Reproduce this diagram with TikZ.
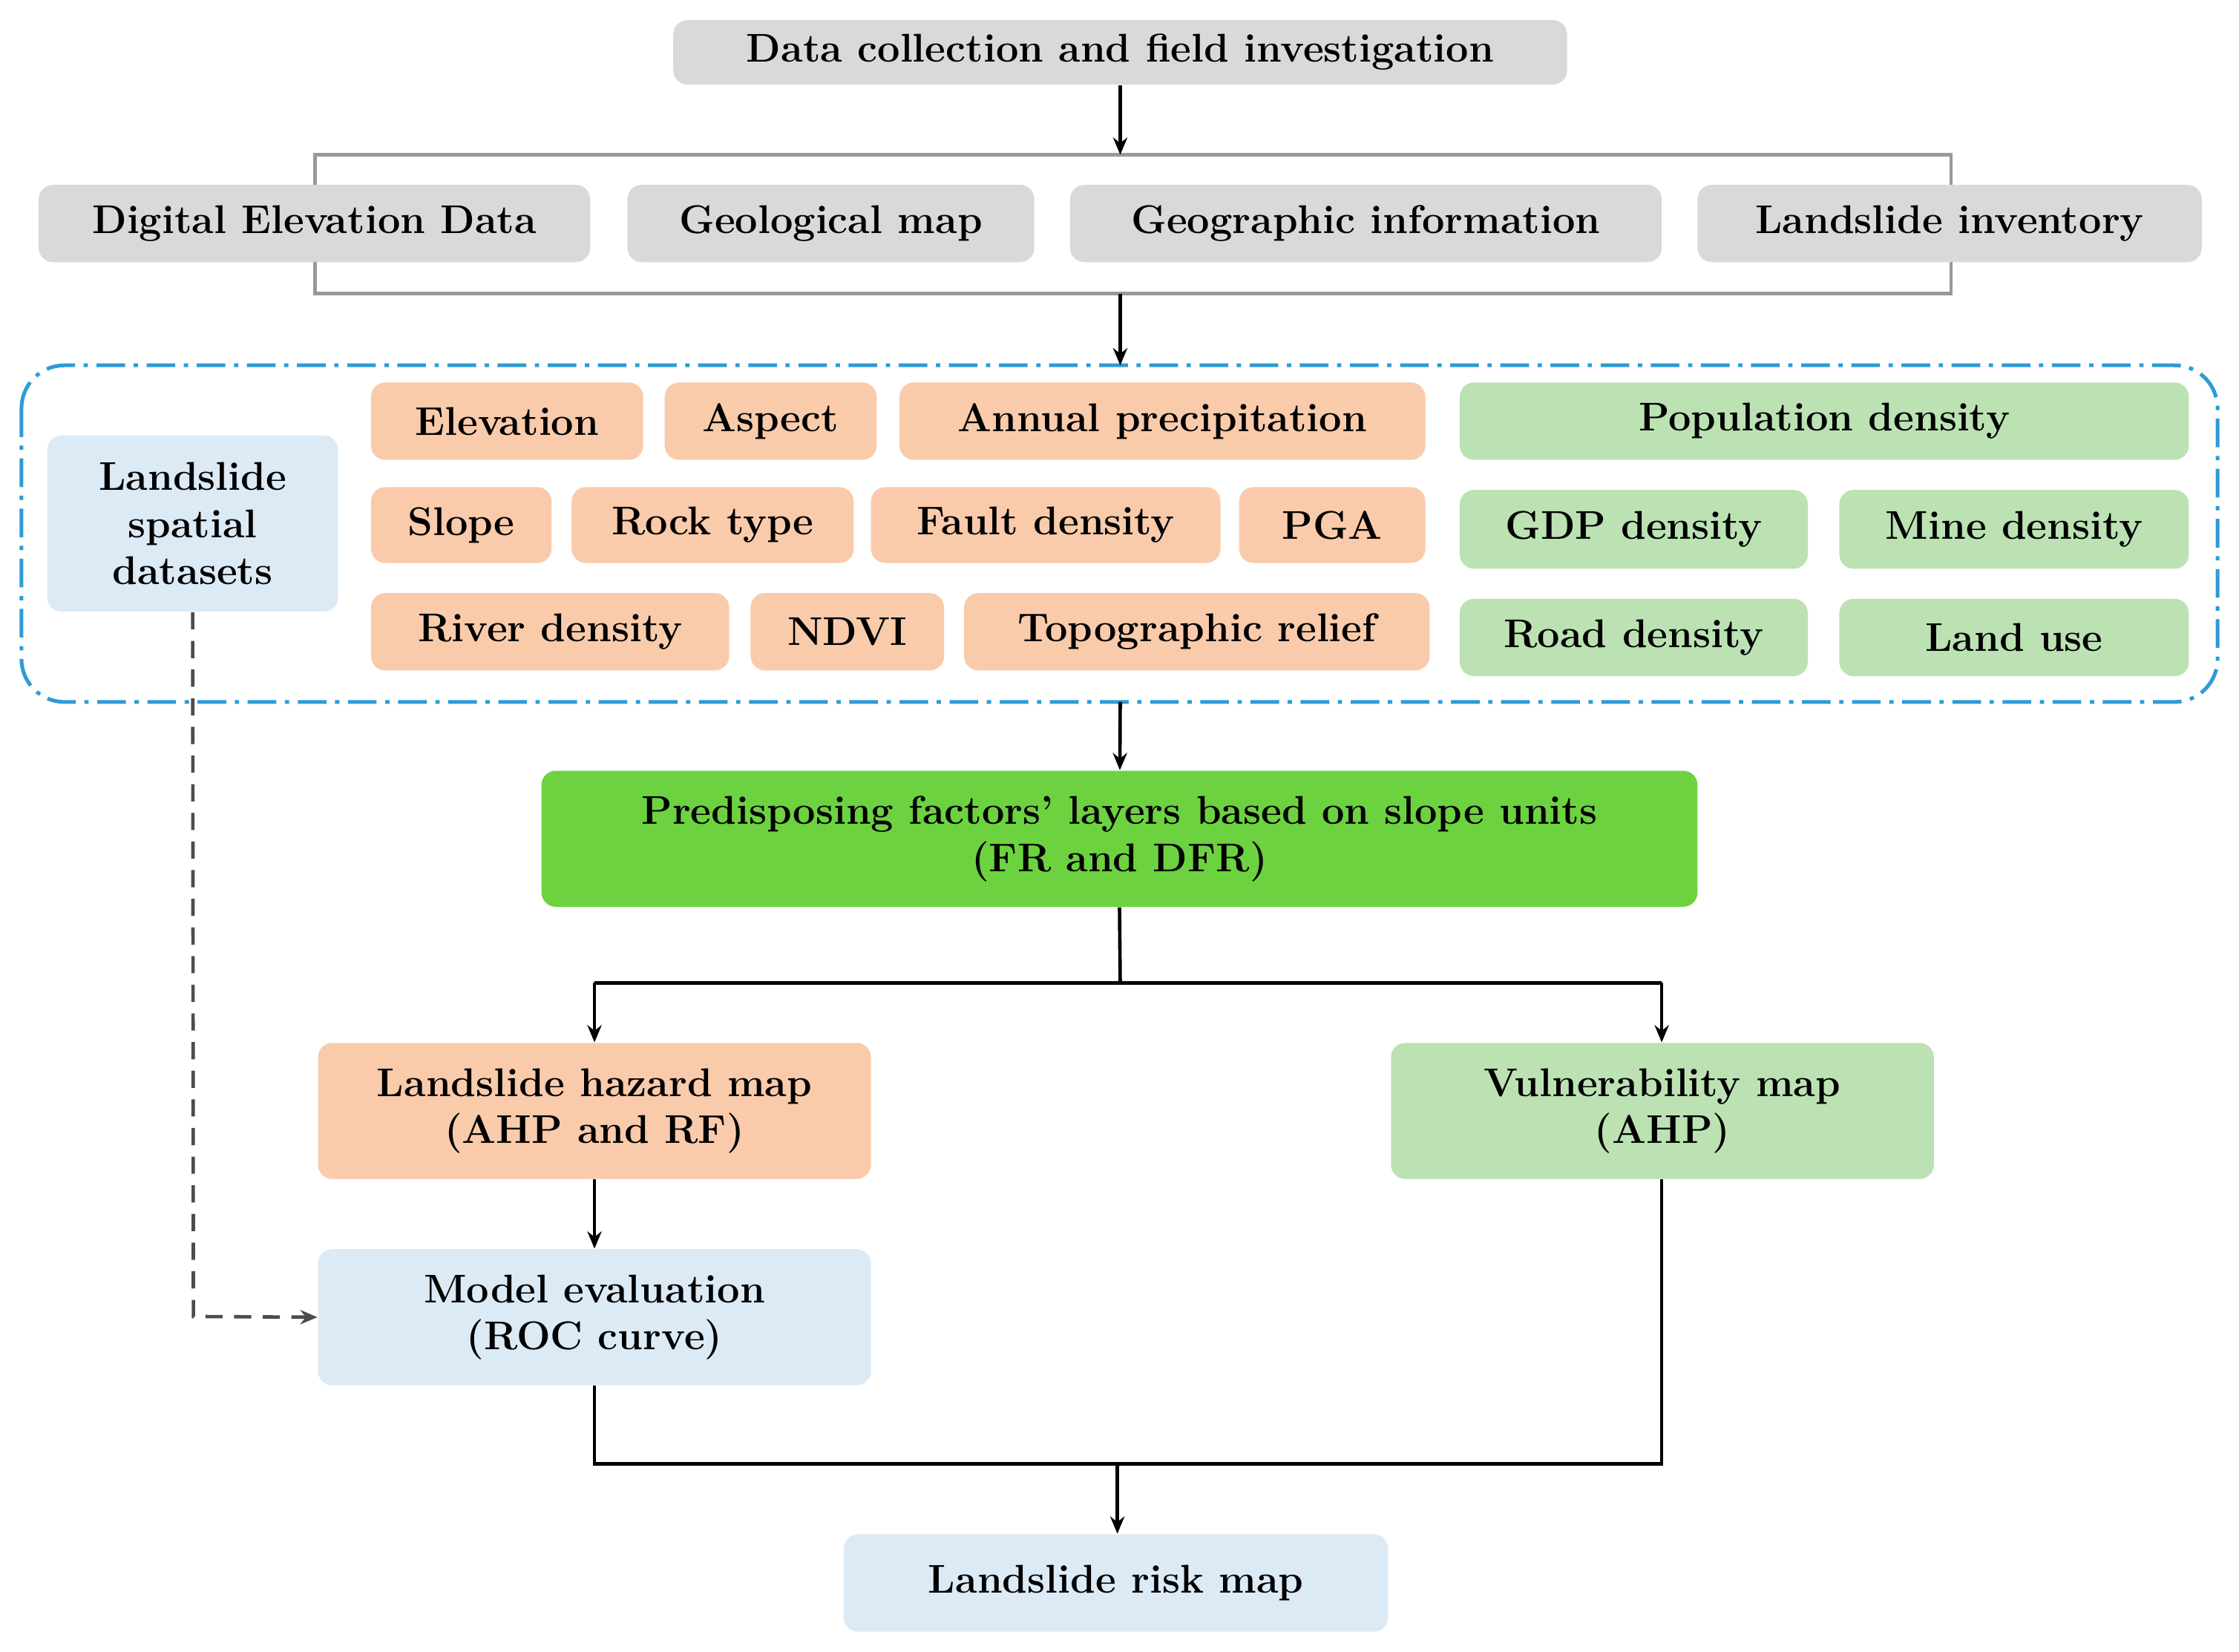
\documentclass[tikz,border=0pt]{standalone}
\usetikzlibrary{arrows.meta}
\definecolor{gr}{HTML}{D9D9D9}
\definecolor{org}{HTML}{F9CBAB}
\definecolor{lgr}{HTML}{BCE2B4}
\definecolor{lbl}{HTML}{DCEAF6}
\definecolor{dgr}{HTML}{6DD240}
\definecolor{bl}{HTML}{2E9BD6}
\begin{document}
\begin{tikzpicture}[x=0.5pt,y=-0.5pt,
 box/.style={rounded corners=5pt,inner sep=0pt,align=center,font=\fontsize{14}{16.5}\selectfont\bfseries},
 arr/.style={line width=1.2pt,-{Stealth[length=6pt,width=5pt]}},
 ln/.style={line width=1.2pt}]
\useasboundingbox[fill=white] (0,0) rectangle (1563,1153);
\newcommand\bx[7]{\node[box,fill=#6,minimum width={(#4-#2)*0.5pt},minimum height={(#5-#3)*0.5pt}] (#1) at ({(#2+#4)/2},{(#3+#5)/2}) {#7};}
\bx{top}{470}{14}{1094}{59}{gr}{Data collection and field investigation}
\bx{ded}{27}{129}{412}{183}{gr}{Digital Elevation Data}
\bx{geo}{438}{129}{722}{183}{gr}{Geological map}
\bx{geog}{747}{129}{1160}{183}{gr}{Geographic information}
\bx{inv}{1185}{129}{1537}{183}{gr}{Landslide inventory}
\draw[gray!80,line width=1.2pt] (220,129) |- (1362,108) -- (1362,129);
\draw[gray!80,line width=1.2pt] (220,183) |- (1362,205) -- (1362,183);
\coordinate (b1) at (782,108); \coordinate (b2) at (782,205);
\draw[arr] (top) -- (b1);
\draw[bl,line width=1.3pt,dash pattern=on 10pt off 3pt on 1.5pt off 3pt,rounded corners=15pt] (15,255) rectangle (1548,490);
\coordinate (dt) at (782,255); \coordinate (db) at (782,490);
\draw[arr] (b2) -- (dt);
\bx{lsd}{33}{304}{236}{427}{lbl}{Landslide\\spatial\\datasets}
\bx{e}{259}{267}{449}{321}{org}{Elevation}
\bx{a}{464}{267}{612}{321}{org}{Aspect}
\bx{ap}{628}{267}{995}{321}{org}{Annual precipitation}
\bx{s}{259}{340}{385}{393}{org}{Slope}
\bx{r}{399}{340}{596}{393}{org}{Rock type}
\bx{f}{608}{340}{852}{393}{org}{Fault density}
\bx{p}{865}{340}{995}{393}{org}{PGA}
\bx{rd}{259}{414}{509}{468}{org}{River density}
\bx{n}{524}{414}{659}{468}{org}{NDVI}
\bx{t}{673}{414}{998}{468}{org}{Topographic relief}
\bx{pop}{1019}{267}{1528}{321}{lgr}{Population density}
\bx{gdp}{1019}{342}{1262}{397}{lgr}{GDP density}
\bx{mine}{1284}{342}{1528}{397}{lgr}{Mine density}
\bx{road}{1019}{418}{1262}{472}{lgr}{Road density}
\bx{lu}{1284}{418}{1528}{472}{lgr}{Land use}
\bx{pre}{378}{538}{1185}{633}{dgr}{Predisposing factors’ layers based on slope units\\(FR and DFR)}
\draw[arr] (db) -- (pre);
\bx{haz}{222}{728}{608}{823}{org}{Landslide hazard map\\(AHP and RF)}
\bx{vul}{971}{728}{1350}{823}{lgr}{Vulnerability map\\(AHP)}
\bx{mod}{222}{872}{608}{967}{lbl}{Model evaluation\\(ROC curve)}
\bx{risk}{589}{1071}{969}{1139}{lbl}{Landslide risk map}
\coordinate (j1) at (782,686); \coordinate (jl) at (415,686); \coordinate (jr) at (1160,686);
\draw[ln] (pre.south) -- (j1);
\draw[ln] (jl) -- (jr);
\draw[arr] (jl) -- (jl|-haz.north);
\draw[arr] (jr) -- (jr|-vul.north);
\draw[arr] (jl|-haz.south) -- (jl|-mod.north);
\coordinate (dc) at (135,919);
\draw[gray!60!black,line width=1.2pt,dash pattern=on 6pt off 4pt,-{Stealth[length=6pt,width=5pt]}] (lsd.south) -- (dc) -- (mod.west);
\coordinate (k1) at (415,1022); \coordinate (k2) at (1160,1022); \coordinate (k3) at (780,1022);
\draw[ln] (jl|-mod.south) -- (k1) -- (k2) -- (jr|-vul.south);
\draw[arr] (k3) -- (k3|-risk.north);
\end{tikzpicture}
\end{document}
